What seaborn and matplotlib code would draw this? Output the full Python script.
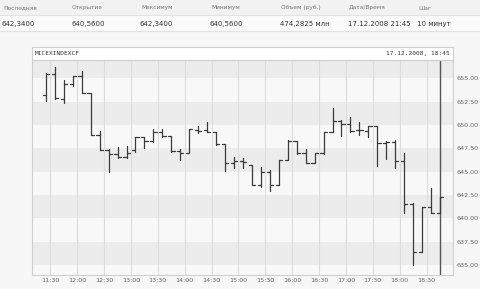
import numpy as np
import pandas as pd
import matplotlib
matplotlib.use("Agg")
import matplotlib.pyplot as plt
import seaborn as sns

# ---------------- data ----------------
bar_start = "11:25"
bar_step_min = 10
opens = [653.22, 655.50, 652.83, 654.43, 655.20, 653.47, 648.92, 647.32, 646.86, 646.60,
         647.30, 648.74, 648.28, 649.20, 648.80, 647.20, 647.03, 649.45, 649.45, 649.20,
         647.96, 645.90, 646.14, 645.71, 643.58, 645.00, 643.58, 646.25, 648.31, 646.96,
         645.96, 646.96, 649.27, 650.44, 650.09, 649.45, 649.38, 649.88, 648.03, 648.20,
         646.17, 641.52, 636.46, 641.20, 640.56]
highs = [655.57, 656.20, 654.86, 655.20, 655.78, 653.47, 649.38, 647.40, 647.67, 647.74,
         648.74, 648.74, 649.52, 649.52, 648.81, 647.40, 649.52, 649.88, 650.34, 649.27,
         647.96, 646.60, 646.43, 645.71, 645.53, 645.18, 646.25, 648.38, 648.31, 647.40,
         647.03, 649.27, 651.77, 650.52, 650.80, 650.34, 649.88, 649.88, 648.28, 648.38,
         646.96, 641.60, 641.20, 643.23, 642.34]
lows = [652.55, 652.83, 652.37, 654.15, 653.47, 648.92, 647.32, 645.00, 646.43, 646.50,
        647.13, 647.50, 648.20, 648.74, 647.13, 646.30, 647.03, 649.10, 649.20, 647.85,
        645.10, 645.36, 645.36, 643.58, 643.40, 642.97, 643.58, 646.25, 646.90, 645.90,
        645.96, 646.90, 649.27, 648.81, 649.20, 648.92, 648.74, 645.60, 646.32, 645.36,
        640.56, 635.00, 636.46, 640.60, 640.56]
closes = [655.50, 652.87, 654.43, 655.20, 653.47, 648.92, 647.32, 646.86, 646.60, 647.00,
          648.74, 648.28, 649.27, 648.80, 647.20, 646.96, 649.52, 649.34, 649.20, 647.92,
          645.90, 646.14, 646.07, 643.58, 645.00, 643.58, 646.25, 648.31, 646.96, 645.96,
          646.96, 649.27, 650.44, 650.09, 649.38, 649.45, 649.88, 648.03, 648.20, 646.17,
          641.52, 636.46, 641.20, 640.63, 642.34]
x_tick_labels = ["11:30", "12:00", "12:30", "13:00", "13:30", "14:00", "14:30", "15:00",
                 "15:30", "16:00", "16:30", "17:00", "17:30", "18:00", "18:30"]
y_ticks = [635.0, 637.5, 640.0, 642.5, 645.0, 647.5, 650.0, 652.5, 655.0]
cursor_time = "18:45"
symbol = "MICEXINDEXCF"
stamp = "17.12.2008, 18:45"
head_labels = ["Последняя", "Открытие", "Максимум", "Минимум", "Объем (руб.)", "Дата/Время", "Шаг"]
head_values = ["642,3400", "640,5600", "642,3400", "640,5600", "474,2825 млн", "17.12.2008 21:45", "10 минут"]

# ---------------- helpers ----------------
def to_min(s):
    h, m = s.split(":")
    return (int(h) - 11) * 60 + int(m) - 30  # minutes since 11:30

n = len(opens)
t0 = to_min(bar_start)
times = [t0 + bar_step_min * i for i in range(n)]
tw = 3.6  # tick half-width in minutes

rows = []
for i in range(n):
    t = times[i]
    rows += [(f"hl{i}", t, lows[i]), (f"hl{i}", t, highs[i])]
    rows += [(f"o{i}", t - tw, opens[i]), (f"o{i}", t, opens[i])]
    rows += [(f"c{i}", t, closes[i]), (f"c{i}", t + tw, closes[i])]
df = pd.DataFrame(rows, columns=["seg", "t", "price"])

# ---------------- figure ----------------
sns.set_theme(style="white")
plt.rcParams['font.family'] = ['DejaVu Sans']
W, H = 480, 289
fig = plt.figure(figsize=(W / 100, H / 100), dpi=100)
fig.patch.set_facecolor("#f7f7f7")

def fx(px):
    return px / W

def fy(py):
    return 1 - py / H

# header table
fig.patches.append(plt.Rectangle((0, fy(15)), 1, 15 / H, transform=fig.transFigure,
                                 facecolor="#f2f2f2", edgecolor="none", zorder=0))
fig.patches.append(plt.Rectangle((0, fy(31)), 1, 16 / H, transform=fig.transFigure,
                                 facecolor="#fbfbfb", edgecolor="none", zorder=0))
for yy in (15, 31):
    fig.add_artist(plt.Line2D([0, 1], [fy(yy), fy(yy)], transform=fig.transFigure,
                              color="#e2e2e2", lw=0.8))
col_x = [3, 72, 141, 211, 281, 349, 418]
for x, lab, val in zip(col_x, head_labels, head_values):
    fig.text(fx(x), fy(8), lab, fontsize=4.2, color="#777777", va="center", ha="left")
    fig.text(fx(x - 1), fy(24), val, fontsize=5.0, color="#333333", va="center", ha="left")

# chart panel title strip
L, R, T, TS, B = 32, 453, 47, 60, 275
fig.patches.append(plt.Rectangle((fx(L), fy(TS)), (R - L) / W, (TS - T) / H,
                                 transform=fig.transFigure, facecolor="#ffffff",
                                 edgecolor="#cfcfcf", lw=0.8, zorder=1))
fig.text(fx(L + 3), fy(53.8), symbol, fontsize=4.4, family="DejaVu Sans Mono",
         color="#333333", va="center", ha="left")
fig.text(fx(R - 3), fy(53.8), stamp, fontsize=4.4, family="DejaVu Sans Mono",
         color="#333333", va="center", ha="right")

ax = fig.add_axes([fx(L), fy(B), (R - L) / W, (B - TS) / H])
ax.set_facecolor("#f8f8f8")
ymin, ymax = 633.95, 656.95
ax.set_ylim(ymin, ymax)
ax.set_xlim(-20.5, 449.5)

# alternating bands
edges = [ymin] + y_ticks + [ymax]
for k in range(len(edges) - 1):
    lo, hi = edges[k], edges[k + 1]
    if lo in (635.0, 640.0, 645.0, 650.0, 655.0):
        ax.axhspan(lo, hi, color="#ececec", lw=0, zorder=0)

xt = [to_min(s) for s in x_tick_labels]
for x in xt:
    ax.axvline(x, color="#dcdcdc", lw=0.8, zorder=0.5)

ax.axvline(to_min(cursor_time), color="#555555", lw=1.0, zorder=1)

sns.lineplot(data=df, x="t", y="price", units="seg", estimator=None, sort=False,
             color="#3a3a3a", lw=0.9, ax=ax, legend=False, zorder=2)

ax.set_xticks(xt)
ax.set_xticklabels(x_tick_labels)
ax.set_yticks(y_ticks)
ax.set_yticklabels([f"{v:.2f}" for v in y_ticks])
ax.yaxis.tick_right()
ax.tick_params(axis="both", length=0, labelsize=4.6, labelcolor="#666666")
ax.tick_params(axis="x", pad=2.5)
ax.tick_params(axis="y", pad=2.5)
ax.set_xlabel("")
ax.set_ylabel("")
for s in ax.spines.values():
    s.set_color("#cfcfcf")
    s.set_linewidth(0.8)

fig.savefig("out.png", dpi=100, facecolor=fig.get_facecolor())
